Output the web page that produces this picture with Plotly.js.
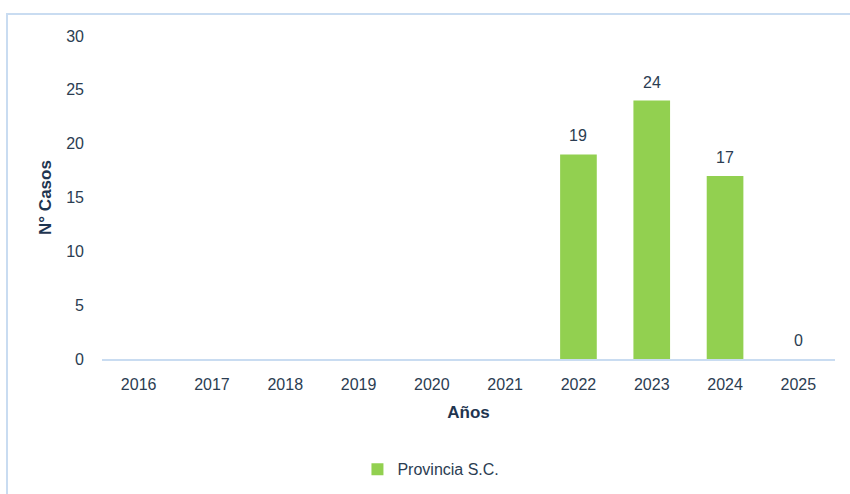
<!DOCTYPE html>
<html>
<head>
<meta charset="utf-8">
<script src="https://cdn.plot.ly/plotly-3.0.1.min.js"></script>
<style>
  html, body { margin: 0; padding: 0; background: #ffffff; }
  #wrap { position: relative; width: 850px; height: 494px; overflow: hidden; }
  #frame { position: absolute; left: 6px; top: 13px; width: 860px; height: 500px;
           border-left: 2px solid #c9dcf1; border-top: 2px solid #c9dcf1; box-sizing: border-box; }
  #chart { position: absolute; left: 0; top: 0; width: 850px; height: 494px; }
</style>
</head>
<body>
<div id="wrap">
  <div id="frame"></div>
  <div id="chart"></div>
</div>
<script>
const years = ['2016','2017','2018','2019','2020','2021','2022','2023','2024','2025'];
const casos = [null, null, null, null, null, null, 19, 24, 17, 0];
const seriesName = 'Provincia S.C.';

const textColor = '#2b3d52';
const fontFam = 'Liberation Sans, Arial, sans-serif';

const annotations = years.map((y, i) => casos[i] === null ? null : ({
  x: i, y: casos[i], xref: 'x', yref: 'y', text: String(casos[i]),
  showarrow: false, yanchor: 'bottom', yshift: 8,
  font: {family: fontFam, size: 16, color: textColor}
})).filter(a => a);

const trace = {
  type: 'bar', x: years, y: casos, name: seriesName,
  marker: {color: '#92d050'}, showlegend: true, hoverinfo: 'skip'
};

const layout = {
  width: 850, height: 494,
  paper_bgcolor: 'rgba(0,0,0,0)', plot_bgcolor: 'rgba(0,0,0,0)',
  margin: {l: 102, r: 15, t: 36, b: 135},
  bargap: 0.5,
  font: {family: fontFam, size: 16, color: textColor},
  xaxis: {
    type: 'category', categoryorder: 'array', categoryarray: years,
    range: [-0.5, years.length - 0.5],
    showgrid: false, zeroline: false,
    showline: true, linecolor: '#c9dcf1', linewidth: 2,
    ticks: '', ticklabelstandoff: 10,
    tickfont: {family: fontFam, size: 16, color: textColor},
    title: {text: '<b>Años</b>', font: {family: fontFam, size: 17, color: '#1f3550'}, standoff: 14}
  },
  yaxis: {
    range: [0, 30], dtick: 5, showgrid: false, zeroline: false, showline: false,
    ticks: '', ticklabelstandoff: 17,
    tickfont: {family: fontFam, size: 16, color: textColor},
    title: {text: '<b>N° Casos</b>', font: {family: fontFam, size: 17, color: '#1f3550'}, standoff: 10}
  },
  legend: {
    orientation: 'h', xref: 'container', yref: 'container',
    x: 0.507, xanchor: 'center', y: 0.05, yanchor: 'middle',
    font: {family: fontFam, size: 16, color: textColor}
  },
  annotations: annotations
};

Plotly.newPlot('chart', [trace], layout, {displayModeBar: false, staticPlot: true});
</script>
</body>
</html>
